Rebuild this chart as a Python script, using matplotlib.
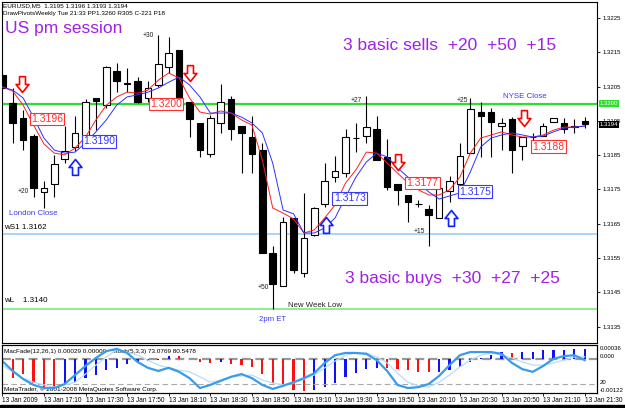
import matplotlib
matplotlib.use('Agg')
import matplotlib.pyplot as plt
import matplotlib.transforms as mtransforms
from matplotlib.path import Path
import numpy as np

# EURUSD M5, 13 Jan 2009 16:50 .. 21:30
opens = [1.32084, 1.32001, 1.31958, 1.31906, 1.31744, 1.31765, 1.31838, 1.31875, 1.31904, 1.32016,
         1.31996, 1.32096, 1.32059, 1.32066, 1.32016, 1.32055, 1.32106, 1.32157, 1.32006, 1.31945,
         1.31854, 1.31945, 1.32014, 1.31935, 1.31904, 1.31865, 1.31566, 1.31467, 1.31666, 1.31506,
         1.31617, 1.31707, 1.31786, 1.31797, 1.31899, 1.31906, 1.31926, 1.31846, 1.31766, 1.31734,
         1.31708, 1.31692, 1.31666, 1.31746, 1.31766, 1.31857, 1.31975, 1.31975, 1.31935, 1.31955,
         1.31877, 1.31902, 1.31906, 1.31948, 1.31945, 1.31934, 1.31950]
highs = [1.32093, 1.32045, 1.31982, 1.31912, 1.31776, 1.31851, 1.31935, 1.31964, 1.32013, 1.32017,
         1.32110, 1.32118, 1.32103, 1.32079, 1.32066, 1.32200, 1.32195, 1.32157, 1.32006, 1.31945,
         1.31967, 1.32058, 1.32023, 1.31935, 1.31964, 1.31885, 1.31585, 1.31671, 1.31666, 1.31739,
         1.31699, 1.31826, 1.31848, 1.31926, 1.31943, 1.32023, 1.31964, 1.31896, 1.31766, 1.31734,
         1.31719, 1.31705, 1.31758, 1.31789, 1.31885, 1.32016, 1.32006, 1.31987, 1.31958, 1.31962,
         1.31904, 1.31914, 1.31945, 1.31958, 1.31958, 1.31955, 1.31960]
lows = [1.32040, 1.31886, 1.31865, 1.31729, 1.31695, 1.31729, 1.31826, 1.31863, 1.31900, 1.31923,
        1.31988, 1.32035, 1.32035, 1.32001, 1.32006, 1.32050, 1.32089, 1.32010, 1.31904, 1.31846,
        1.31846, 1.31914, 1.31894, 1.31797, 1.31797, 1.31566, 1.31400, 1.31467, 1.31506, 1.31496,
        1.31614, 1.31700, 1.31773, 1.31787, 1.31860, 1.31886, 1.31836, 1.31747, 1.31705, 1.31656,
        1.31700, 1.31585, 1.31666, 1.31714, 1.31766, 1.31857, 1.31846, 1.31846, 1.31865, 1.31797,
        1.31836, 1.31875, 1.31906, 1.31948, 1.31914, 1.31916, 1.31930]
closes = [1.32046, 1.31945, 1.31894, 1.31754, 1.31754, 1.31824, 1.31862, 1.31916, 1.32006, 1.32008,
          1.32106, 1.32066, 1.32060, 1.32006, 1.32045, 1.32116, 1.32147, 1.32011, 1.31955, 1.31865,
          1.31958, 1.32006, 1.31926, 1.31916, 1.31854, 1.31566, 1.31474, 1.31656, 1.31515, 1.31608,
          1.31695, 1.31775, 1.31805, 1.31904, 1.31900, 1.31933, 1.31836, 1.31756, 1.31747, 1.31714,
          1.31707, 1.31676, 1.31754, 1.31775, 1.31848, 1.31984, 1.31965, 1.31948, 1.31945, 1.31865,
          1.31904, 1.31903, 1.31935, 1.31958, 1.31926, 1.31933, 1.31940]

ma_fast = [1.32049, 1.32037, 1.31996, 1.31938, 1.31883, 1.31856, 1.31851, 1.31871, 1.31903, 1.31953,
           1.31996, 1.32020, 1.32034, 1.32031, 1.32040, 1.32069, 1.32090, 1.32075, 1.32017, 1.31976,
           1.31970, 1.31979, 1.31973, 1.31953, 1.31938, 1.31836, 1.31696, 1.31681, 1.31664, 1.31623,
           1.31632, 1.31667, 1.31705, 1.31769, 1.31807, 1.31859, 1.31856, 1.31827, 1.31798, 1.31769,
           1.31749, 1.31734, 1.31734, 1.31749, 1.31786, 1.31856, 1.31900, 1.31909, 1.31918, 1.31909,
           1.31903, 1.31903, 1.31909, 1.31923, 1.31932, 1.31932, 1.31935]
ma_slow = [1.32049, 1.32040, 1.32017, 1.31961, 1.31900, 1.31865, 1.31856, 1.31859, 1.31886, 1.31918,
           1.31953, 1.31996, 1.32020, 1.32026, 1.32034, 1.32046, 1.32063, 1.32078, 1.32055, 1.32020,
           1.31973, 1.31973, 1.31973, 1.31961, 1.31944, 1.31915, 1.31827, 1.31690, 1.31679, 1.31623,
           1.31623, 1.31638, 1.31667, 1.31728, 1.31786, 1.31830, 1.31856, 1.31845, 1.31813, 1.31786,
           1.31769, 1.31743, 1.31722, 1.31731, 1.31740, 1.31801, 1.31874, 1.31900, 1.31909, 1.31915,
           1.31909, 1.31903, 1.31906, 1.31918, 1.31929, 1.31932, 1.31935]

macd_hist = [-0.00068, -0.00072, -0.00059, -0.00093, -0.00112, -0.00106, -0.00100, -0.00087, -0.00074, -0.00062,
             -0.00043, -0.00035, -0.00022, -0.00012, -0.00009, -0.00006, 0.00010, 0.00009, -0.00002, -0.00014,
             -0.00018, -0.00014, -0.00022, -0.00024, -0.00033, -0.00059, -0.00093, -0.00102, -0.00118, -0.00122,
             -0.00120, -0.00108, -0.00093, -0.00071, -0.00056, -0.00041, -0.00035, -0.00037, -0.00041, -0.00043,
             -0.00050, -0.00052, -0.00050, -0.00043, -0.00033, -0.00012, 0.00003, 0.00013, 0.00023, 0.00020,
             0.00023, 0.00024, 0.00032, 0.00033, 0.00034, 0.00035, 0.00036]
macd_up = [1, 0, 0, 0, 0, 0, 1, 1, 1, 1,
           1, 1, 1, 1, 1, 1, 1, 0, 0, 0,
           0, 1, 0, 0, 0, 0, 0, 0, 0, 0,
           1, 1, 1, 1, 1, 1, 1, 0, 0, 0,
           0, 0, 1, 1, 1, 1, 1, 1, 1, 0,
           1, 1, 1, 1, 1, 1, 1]
stoch_main = [71, 49, 31, 18, 11, 11, 20, 40, 60, 78,
              93, 98, 89, 69, 56, 49, 56, 47, 33, 11,
              18, 27, 36, 42, 33, 18, 9, 16, 24, 33,
              44, 67, 84, 89, 89, 87, 73, 49, 18, 11,
              13, 20, 38, 62, 84, 91, 91, 91, 87, 67,
              53, 47, 60, 76, 82, 84, 73]
stoch_signal = [62, 47, 33, 24, 18, 13, 18, 24, 42, 62,
                80, 96, 91, 84, 73, 62, 56, 51, 47, 36,
                24, 29, 36, 38, 40, 29, 22, 18, 22, 31,
                40, 56, 71, 84, 89, 89, 80, 67, 44, 24,
                16, 13, 24, 40, 58, 73, 84, 89, 84, 78,
                69, 62, 62, 67, 73, 80, 80.5]

time_labels = ['13 Jan 2009', '13 Jan 17:10', '13 Jan 17:30', '13 Jan 17:50', '13 Jan 18:10',
               '13 Jan 18:30', '13 Jan 18:50', '13 Jan 19:10', '13 Jan 19:30', '13 Jan 19:50',
               '13 Jan 20:10', '13 Jan 20:30', '13 Jan 20:50', '13 Jan 21:10', '13 Jan 21:30']

# signals: (bar, price)
sell_arrows = [(1.9, 1.32058), (18.05, 1.32090), (38.05, 1.31830), (50.2, 1.31958)]
buy_arrows = [(7.0, 1.31816), (31.1, 1.31647), (43.15, 1.31667)]
sell_levels = [(4.3, 1.31956, '1.3196'), (15.74, 1.32000, '1.3200'),
               (40.4, 1.31769, '1.3177'), (52.5, 1.31875, '1.3188')]
buy_levels = [(9.3, 1.31890, '1.3190'), (33.4, 1.31724, '1.3173'), (45.45, 1.31744, '1.3175')]
pips = [(14.0, 1.32200, '+30'), (2.0, 1.31743, '+20'), (25.1, 1.31463, '+50'),
        (34.0, 1.32011, '+27'), (40.1, 1.31626, '+15'), (44.2, 1.32011, '+25')]

W, H = 625, 408
FONT = 'Liberation Sans'
PURPLE = '#A020E8'
BLUE_TXT = '#3B3BF5'


def frac(x0, y0, x1, y1):
    return [x0 / W, 1 - y1 / H, (x1 - x0) / W, (y1 - y0) / H]


fig = plt.figure(figsize=(W / 100, H / 100), dpi=100)
plt.rcParams['font.family'] = FONT

idx = np.arange(len(opens))
o = np.array(opens)
c = np.array(closes)
xlim = (-0.03, 57.18)

# ---- main price window
ax = fig.add_axes(frac(2, 2, 597, 343))
ax.set_xlim(*xlim)
ax.set_ylim(1.31302, 1.32297)

ax.axhline(1.3200, color='#2EDD2E', lw=1.6, zorder=1)
ax.axhline(1.3162, color='#9CCCF5', lw=1.2, zorder=1)
ax.axhline(1.3140, color='#7BEA7B', lw=1.2, zorder=1)

ax.vlines(idx, lows, highs, color='black', lw=0.8, zorder=2)
fill = np.where(c < o, 'black', 'white')
ax.bar(idx, np.maximum(np.abs(c - o), 0.00002), bottom=np.minimum(o, c), width=0.62,
       color=fill, edgecolor='black', linewidth=0.8, zorder=3)

ax.plot(idx, ma_fast, color='#FF2020', lw=0.7, zorder=4)
ax.plot(idx, ma_slow, color='#3030FF', lw=0.7, zorder=4)

down = Path([(-0.23, 0.61), (0.23, 0.61), (0.23, 0.0), (0.5, 0.0), (0.0, -0.62),
             (-0.5, 0.0), (-0.23, 0.0), (-0.23, 0.61)],
            [Path.MOVETO] + [Path.LINETO] * 6 + [Path.CLOSEPOLY])
up = Path(down.vertices * [1, -1], down.codes)
for x, y in sell_arrows:
    ax.plot(x, y, marker=down, ms=11.5, mfc='white', mec='red', mew=1.2, zorder=6)
for x, y in buy_arrows:
    ax.plot(x, y, marker=up, ms=11.5, mfc='white', mec='#1020FF', mew=1.2, zorder=6)

for x, y, s in sell_levels:
    ax.text(x, y, s, color='#FF3030', fontsize=7.5, ha='center', va='center', zorder=7,
            bbox=dict(boxstyle='square,pad=0.12', fc='white', ec='#FF3030', lw=0.8))
for x, y, s in buy_levels:
    ax.text(x, y, s, color='#3838FF', fontsize=7.5, ha='center', va='center', zorder=7,
            bbox=dict(boxstyle='square,pad=0.12', fc='white', ec='#3838FF', lw=0.8))
for x, y, s in pips:
    ax.text(x, y, s, fontsize=4.8, ha='center', va='center', color='#222222', zorder=7)

ax.text(2.95, 1.31679, 'London Close', color=BLUE_TXT, fontsize=5.7, ha='center', va='center')
ax.text(26.0, 1.31370, '2pm ET', color=BLUE_TXT, fontsize=5.6, ha='center', va='center')
ax.text(50.2, 1.32020, 'NYSE Close', color=BLUE_TXT, fontsize=5.7, ha='center', va='center')
ax.text(27.5, 1.31410, 'New Week Low', color='#222222', fontsize=5.6, ha='left', va='center')
trans = mtransforms.blended_transform_factory(ax.transAxes, ax.transData)
ax.text(0.004, 1.31640, 'wS1 1.3162', fontsize=5.8, transform=trans, va='center')
ax.text(0.004, 1.31425, 'wL    1.3140', fontsize=5.8, transform=trans, va='center')

ax.yaxis.tick_right()
yt = np.arange(1.3135, 1.32251, 0.001)
ax.set_yticks(yt)
ax.set_yticklabels(['%.4f' % v for v in yt], fontsize=4.3)
ax.tick_params(axis='y', length=2, width=0.6, pad=2)
ax.set_xticks([])
for s in ax.spines.values():
    s.set_linewidth(0.8)
ax.text(1.005, 1.3200, '1.3200', transform=trans, fontsize=4.3, color='white', va='center',
        bbox=dict(boxstyle='square,pad=0.15', fc='#2EDD2E', ec='none'))
ax.text(1.005, closes[-1], '%.4f' % closes[-1], transform=trans, fontsize=4.3, color='white',
        va='center', bbox=dict(boxstyle='square,pad=0.15', fc='black', ec='none'))

# ---- indicator window
ax2 = fig.add_axes(frac(2, 345, 597, 393))
ax2.set_xlim(*xlim)
ax2.set_ylim(-0.001295, 0.00051)
ax2.bar(idx, macd_hist, width=0.22, color=['#1010FF' if u else '#FF1010' for u in macd_up], zorder=2)
ax2.axhline(0, color='#999999', lw=1.6, ls=(0, (4, 2)), zorder=1)
ax3 = ax2.twinx()
ax3.set_ylim(0, 106.7)
ax3.axhline(20, color='#AAAAAA', lw=0.8, ls=(0, (5, 3)))
ax3.plot(idx, stoch_signal, color='#B8DDF6', lw=0.9)
ax3.plot(idx, stoch_main, color='#3A9BEA', lw=1.6)
ax2.set_yticks([])
ax3.set_yticks([])
ax2.set_xticks(np.arange(0, 57, 4))
ax2.set_xticklabels(time_labels, fontsize=4.7, ha='left')
ax2.tick_params(axis='x', length=2, width=0.6, pad=0.6)
for a in (ax2, ax3):
    for s in a.spines.values():
        s.set_linewidth(0.8)
ax2.text(0.003, 0.86, 'MacFade(12,26,1) 0.00029 0.00000   Stoch(5,3,3) 73.0769 80.5478',
         transform=ax2.transAxes, fontsize=4.6, va='center')
ax2.text(0.003, 0.07, 'MetaTrader, \u00a9 2001-2008 MetaQuotes Software Corp.',
         transform=ax2.transAxes, fontsize=4.6, va='center')

fig.text(600 / W, 1 - 349 / H, '0.00036', fontsize=4.3, va='center')
fig.text(600 / W, 1 - 357 / H, '0.000', fontsize=4.3, va='center')
fig.text(600 / W, 1 - 383 / H, '20', fontsize=4.3, va='center')
fig.text(600 / W, 1 - 391 / H, '-0.00122', fontsize=4.3, va='center')

# ---- headers and notes
fig.text(3 / W, 1 - 6 / H, 'EURUSD,M5  1.3195 1.3196 1.3193 1.3194', fontsize=4.6, va='center')
fig.text(3 / W, 1 - 14 / H, 'DrawPivotsWeekly Tue 21:33 PP1.3260 R305 C-221 P18', fontsize=4.6, va='center')
fig.text(5 / W, 1 - 29 / H, 'US pm session', fontsize=12.5, color=PURPLE, va='center')
fig.text(343 / W, 1 - 45 / H, '3 basic sells  +20  +50  +15', fontsize=12.5, color=PURPLE, va='center')
fig.text(345 / W, 1 - 279 / H, '3 basic buys  +30  +27  +25', fontsize=12.5, color=PURPLE, va='center')

fig.patches.append(plt.Rectangle((0, 0), 1, 3 / H, transform=fig.transFigure, color='black'))

fig.savefig('out.png', dpi=100)
